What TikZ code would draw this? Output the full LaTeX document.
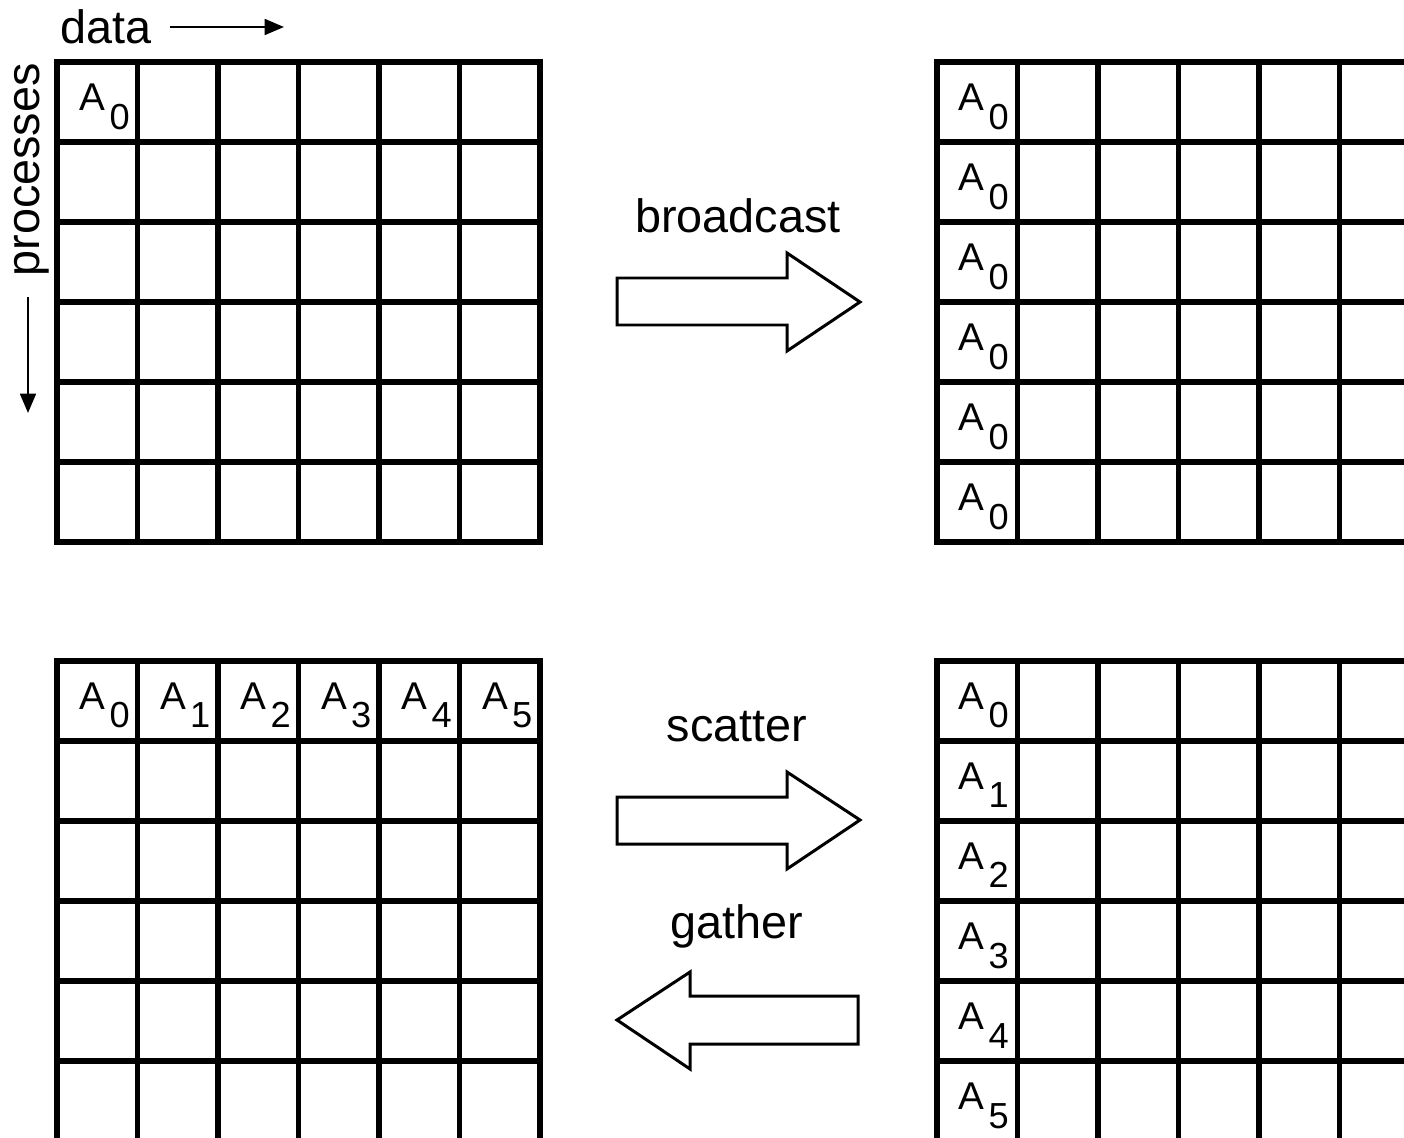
\documentclass[tikz,border=0pt]{standalone}
\usepackage{fontspec}
\setmainfont{Liberation Sans}
\usetikzlibrary{arrows.meta, positioning}

\newcommand{\Asub}[1]{A\hspace{1.2pt}\raisebox{-5.4pt}{\fontsize{10.3}{12}\selectfont #1}}

\begin{document}
\begin{tikzpicture}[x=0.01cm, y=-0.01cm]
  \tikzset{
    cell/.style={
      draw,
      line width=1.5pt,
      minimum width=0.805cm,
      minimum height=0.8cm,
      inner sep=0pt,
      outer sep=0pt,
      anchor=north west
    },
    sublabel/.style={
      font=\fontsize{11}{13}\selectfont,
      inner sep=0pt,
      anchor=base west
    },
    title/.style={
      font=\fontsize{13.3}{16}\selectfont,
      inner sep=0pt
    },
    axisarrow/.style={
      line width=0.65pt,
      -{Triangle[length=5.5pt, width=4.5pt]}
    },
    blockarrow/.style={
      draw,
      line width=0.85pt,
      fill=white,
      line join=miter
    }
  }

  \useasboundingbox (0,0) rectangle (1404,1137);
  \clip (0,0) rectangle (1404,1137);

  % axis labels
  \node[title, anchor=base west] (data) at (60,44) {data};
  \coordinate (data-start) at (170,27);
  \coordinate (data-end) at (284,27);
  \draw[axisarrow] (data-start) -- (data-end);

  \node[title, anchor=base, rotate=90] (procs) at (39,170) {processes};
  \coordinate (procs-start) at (28,297);
  \coordinate (procs-end) at (28,413);
  \draw[axisarrow] (procs-start) -- (procs-end);

  % the four grids
  \foreach \r in {0,...,5} {
    \foreach \c in {0,...,5} {
      \node[cell] (tl-\r-\c) at (57+\c*80.5, 62+\r*80) {};
      \node[cell] (tr-\r-\c) at (937+\c*80.5, 62+\r*80) {};
      \node[cell] (bl-\r-\c) at (57+\c*80.5, 661+\r*80) {};
      \node[cell] (br-\r-\c) at (937+\c*80.5, 661+\r*80) {};
    }
  }

  % before broadcast
  \node[sublabel] (tl-lbl) at (79,111) {\Asub{0}};

  % after broadcast
  \foreach \r in {0,...,5} {
    \node[sublabel] (tr-lbl-\r) at (958,111+\r*80) {\Asub{0}};
  }

  % before scatter / after gather
  \foreach \c in {0,...,5} {
    \node[sublabel] (bl-lbl-\c) at (79+\c*80.5,709) {\Asub{\c}};
  }

  % after scatter / before gather
  \foreach \r in {0,...,5} {
    \node[sublabel] (br-lbl-\r) at (958,709+\r*80) {\Asub{\r}};
  }

  % operations
  \node[title, anchor=base] (bcast) at (738,233) {broadcast};
  \draw[blockarrow] (617,278) -- (787,278) -- (787,253) -- (860,302)
    -- (787,351) -- (787,325) -- (617,325) -- cycle;

  \node[title, anchor=base] (scatter) at (737,741) {scatter};
  \draw[blockarrow] (617,797) -- (787,797) -- (787,772) -- (860,820)
    -- (787,869) -- (787,844) -- (617,844) -- cycle;

  \node[title, anchor=base] (gather) at (737,938) {gather};
  \draw[blockarrow] (858,996) -- (690,996) -- (690,972) -- (617,1020)
    -- (690,1069) -- (690,1044) -- (858,1044) -- cycle;

\end{tikzpicture}
\end{document}
